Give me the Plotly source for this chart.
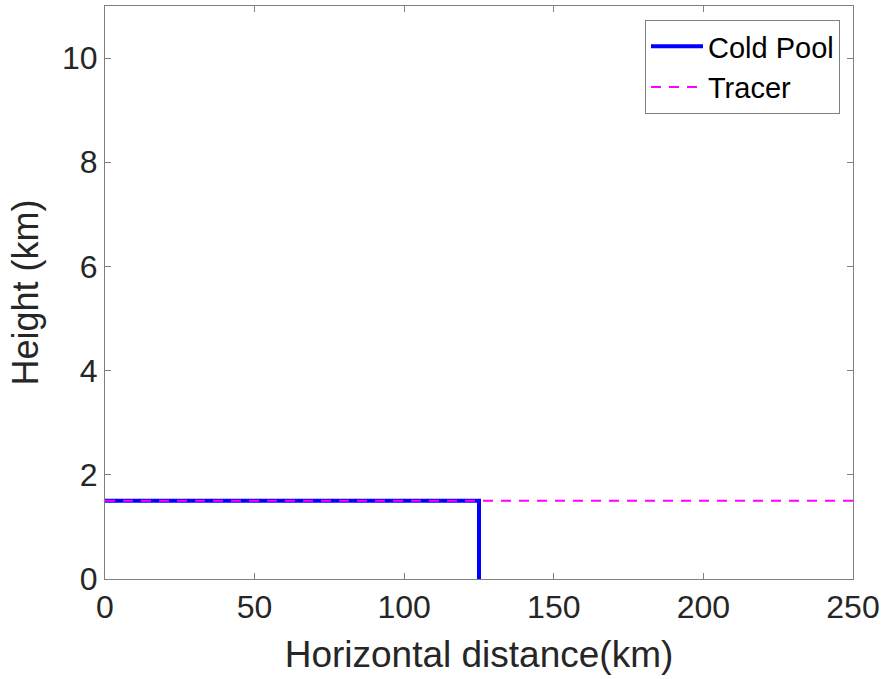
import plotly.graph_objects as go

cold_x = [0, 125, 125]
cold_y = [1.5, 1.5, 0]
tracer_x = [0, 250]
tracer_y = [1.5, 1.5]
x_ticks = [0, 50, 100, 150, 200, 250]
y_ticks = [0, 2, 4, 6, 8, 10]

FONT = "Liberation Sans, Arial, Helvetica"
TXT = "#262626"

fig = go.Figure()
fig.add_trace(go.Scatter(x=cold_x, y=cold_y, mode="lines", name="Cold Pool",
                         line=dict(color="#0000ff", width=4)))
fig.add_trace(go.Scatter(x=tracer_x, y=tracer_y, mode="lines", name="Tracer",
                         line=dict(color="#ff00ff", width=2, dash="10px,8px")))

axis_common = dict(showline=True, linecolor="#808080", linewidth=1, mirror="ticks",
                   ticks="inside", ticklen=6, tickcolor="#808080", showgrid=False,
                   zeroline=False, tickfont=dict(family=FONT, size=32, color=TXT))
fig.update_xaxes(range=[0, 250], tickvals=x_ticks,
                 title=dict(text="Horizontal distance(km)", font=dict(family=FONT, size=37, color=TXT), standoff=16),
                 **axis_common)
fig.update_yaxes(range=[0, 11], tickvals=y_ticks,
                 title=dict(text="Height (km)", font=dict(family=FONT, size=36, color=TXT), standoff=12),
                 **axis_common)
fig.update_layout(
    width=886, height=679,
    margin=dict(l=105, r=33, t=6, b=100),
    plot_bgcolor="white", paper_bgcolor="white",
    legend=dict(x=0.9826, y=0.9756, xanchor="right", yanchor="top",
                bordercolor="#808080", borderwidth=1, bgcolor="white",
                font=dict(family=FONT, size=29, color="black"),
                itemwidth=52, tracegroupgap=0),
    showlegend=True,
)
fig.write_html("out.html", config={"displayModeBar": False},
               post_script="document.body.style.margin='0px';document.body.style.overflow='hidden';")
